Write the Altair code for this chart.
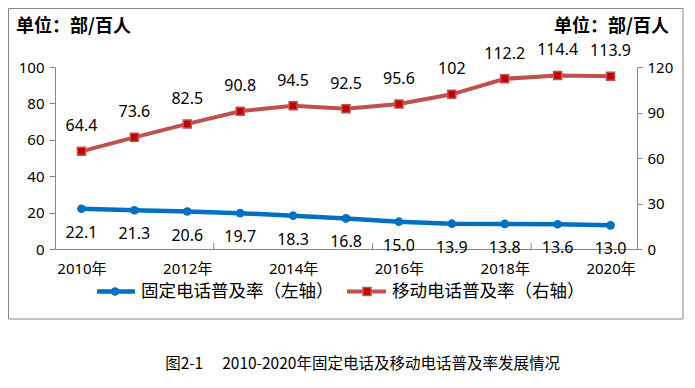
import altair as alt
import pandas as pd

# ---- data ----
years = list(range(2010, 2021))
fixed = [22.1, 21.3, 20.6, 19.7, 18.3, 16.8, 15.0, 13.9, 13.8, 13.6, 13.0]
mobile = [64.4, 73.6, 82.5, 90.8, 94.5, 92.5, 95.6, 102, 112.2, 114.4, 113.9]
label_years = [2010, 2012, 2014, 2016, 2018, 2020]
tick_bounds = [2012.5, 2015.5, 2018.5]
left_ticks = [0, 20, 40, 60, 80, 100]
right_ticks = [0, 30, 60, 90, 120]
unit_text = "单位：部/百人"
fixed_name = "固定电话普及率（左轴）"
mobile_name = "移动电话普及率（右轴）"
caption_text = "图2-1　 2010-2020年固定电话及移动电话普及率发展情况"

df = pd.DataFrame({"year": years, "fixed": fixed, "mobile": mobile})
one = pd.DataFrame({"k": [0]})

# ---- styles ----
BLUE = "#0070C0"
RED_LINE = "#C0504D"
RED_MARK = "#C00000"
GRAY = "#868686"
NUMF = "Noto Sans, Noto Sans CJK SC"
CJK = "Noto Sans CJK SC"

x_enc = alt.X(
    "year:Q",
    scale=alt.Scale(domain=[2009.5, 2020.5], nice=False, zero=False),
    axis=alt.Axis(
        values=label_years, labelExpr="datum.value + '年'", ticks=False, grid=False,
        title=None, labelPadding=12, domainColor=GRAY, labelFont=NUMF, labelFontSize=15,
        labelColor="#000", labelFlush=False, labelOverlap=False,
    ),
)

y_fixed = alt.Y(
    "fixed:Q",
    scale=alt.Scale(domain=[0, 100], nice=False),
    axis=alt.Axis(
        orient="left", values=left_ticks, grid=False, title=None, tickSize=6,
        labelPadding=5, domainColor=GRAY, tickColor=GRAY, labelFont=NUMF,
        labelFontSize=15, labelColor="#000",
    ),
)
y_mob = alt.Y(
    "mobile:Q",
    scale=alt.Scale(domain=[0, 120], nice=False),
    axis=alt.Axis(
        orient="right", values=right_ticks, grid=False, title=None, tickSize=5,
        labelPadding=5, domainColor=GRAY, tickColor=GRAY, labelFont=NUMF,
        labelFontSize=15, labelColor="#000",
    ),
)

base = alt.Chart(df)
fixed_layer = alt.layer(
    base.mark_line(color=BLUE, strokeWidth=4.5).encode(x=x_enc, y=y_fixed),
    base.mark_circle(size=75, color=BLUE, opacity=1).encode(x=x_enc, y=y_fixed),
    base.mark_text(dy=24, fontSize=16, font=NUMF, color="#000").encode(
        x=x_enc, y=y_fixed, text=alt.Text("fixed:Q", format=".1f")),
)
mobile_layer = alt.layer(
    base.mark_line(color=RED_LINE, strokeWidth=4).encode(x=x_enc, y=y_mob),
    base.mark_square(size=64, color=RED_MARK, stroke=RED_LINE, strokeWidth=1.5, opacity=1).encode(x=x_enc, y=y_mob),
    base.mark_text(dy=-25, fontSize=16, font=NUMF, color="#000").encode(
        x=x_enc, y=y_mob, text=alt.Text("mobile:Q")),
)

dec = alt.Chart(one)
frame = dec.mark_rect(fill="transparent", stroke=GRAY, strokeWidth=1).encode(
    x=alt.value(-46.5), x2=alt.value(628), y=alt.value(-58.5), y2=alt.value(252))
bticks = alt.Chart(pd.DataFrame({"year": tick_bounds})).mark_rule(color=GRAY, strokeWidth=1).encode(
    x=x_enc, y=alt.value(176), y2=alt.value(182))

title_l = dec.mark_text(align="left", baseline="middle", fontSize=18, fontWeight="bold", font=CJK, color="#000").encode(
    x=alt.value(-39), y=alt.value(-40), text=alt.value(unit_text))
title_r = dec.mark_text(align="right", baseline="middle", fontSize=18, fontWeight="bold", font=CJK, color="#000").encode(
    x=alt.value(614), y=alt.value(-40), text=alt.value(unit_text))

LEG_Y = 224.5
leg_b_line = dec.mark_rule(color=BLUE, strokeWidth=4.5).encode(x=alt.value(42), x2=alt.value(80), y=alt.value(LEG_Y))
leg_b_pt = dec.mark_circle(size=75, color=BLUE, opacity=1).encode(x=alt.value(60), y=alt.value(LEG_Y))
leg_b_txt = dec.mark_text(align="left", baseline="middle", fontSize=17.5, font=CJK, color="#000").encode(
    x=alt.value(86), y=alt.value(LEG_Y), text=alt.value(fixed_name))
leg_r_line = dec.mark_rule(color=RED_LINE, strokeWidth=4).encode(x=alt.value(292), x2=alt.value(331), y=alt.value(LEG_Y))
leg_r_pt = dec.mark_square(size=64, color=RED_MARK, stroke=RED_LINE, strokeWidth=1.5, opacity=1).encode(
    x=alt.value(312), y=alt.value(LEG_Y))
leg_r_txt = dec.mark_text(align="left", baseline="middle", fontSize=17.5, font=CJK, color="#000").encode(
    x=alt.value(337), y=alt.value(LEG_Y), text=alt.value(mobile_name))

caption = dec.mark_text(align="center", baseline="middle", fontSize=15.5, font=CJK, color="#000").encode(
    x=alt.value(307.5), y=alt.value(297), text=alt.value(caption_text))

chart = alt.layer(
    frame, bticks, fixed_layer, mobile_layer, title_l, title_r,
    leg_b_line, leg_b_pt, leg_b_txt, leg_r_line, leg_r_pt, leg_r_txt, caption,
).resolve_scale(y="independent").properties(
    width=582, height=182,
    autosize=alt.AutoSizeParams(type="none"),
    padding={"left": 47, "top": 59, "right": 50, "bottom": 125},
    background="white",
).configure_view(stroke=None)

chart.save("out.html", embed_options={"renderer": "svg", "actions": False})
